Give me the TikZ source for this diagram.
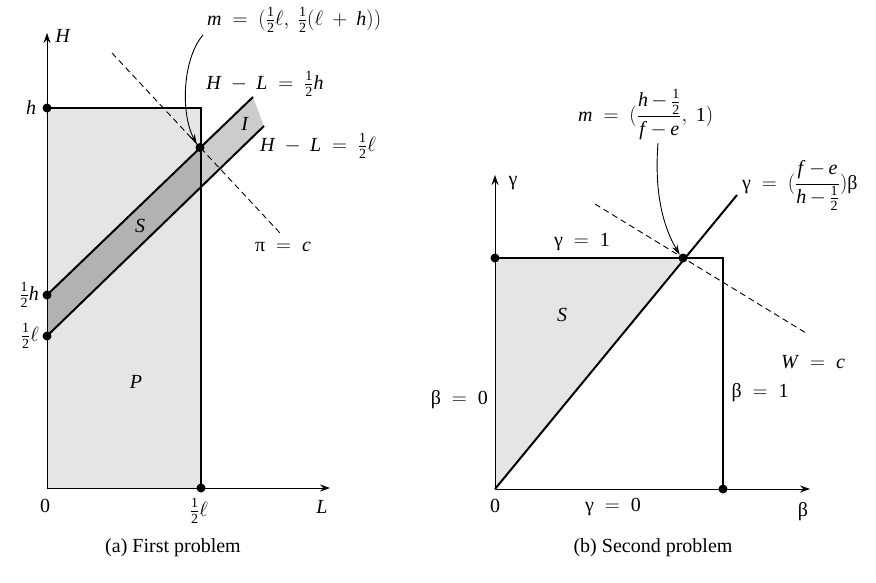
\documentclass[tikz,border=0pt]{standalone}
\usepackage{fontspec}
\setmainfont{Liberation Serif}
\usetikzlibrary{arrows.meta}
\newcommand\smn[1]{\mbox{\fontsize{14}{14}\selectfont #1}}
\newcommand\hlf{{\textstyle\frac{\smn{1}}{\smn{2}}}}
\newcommand\vi[1]{\mbox{\textit{#1}}}
\newcommand\vr[1]{\mbox{#1}}
\newcommand\nm{\mskip3mu{-}\mskip3mu}
\newcommand\bigfr[2]{{\displaystyle\frac{#1}{#2}}}
\begin{document}
\begin{tikzpicture}[x=1pt,y=-1pt,
  font=\fontsize{20}{24}\selectfont,
  thickline/.style={line width=2pt},
  axisline/.style={line width=0.9pt,-{Stealth[length=10pt,width=7pt]}},
  pointer/.style={line width=0.9pt,-{Stealth[length=10pt,width=6pt]}},
  dot/.style={circle,fill=black,inner sep=0pt,minimum size=9pt},
  dashline/.style={line width=0.9pt,dash pattern=on 6pt off 4pt},
  lbl/.style={inner sep=1pt}]
\thickmuskip=9.5mu plus 2mu
\medmuskip=8mu plus 2mu
\useasboundingbox (0,0) rectangle (876,582);
% ---------------- left panel ----------------
\coordinate (O1) at (47,488);
\coordinate (Ytop1) at (47,33);
\coordinate (Xend1) at (330,488);
\coordinate (Rtr) at (201,108);
\coordinate (Rbr) at (201,488);
\coordinate (Ua) at (47,295);
\coordinate (Ub) at (253,97);
\coordinate (La) at (47,336);
\coordinate (Lb) at (264,126);
\coordinate (Lx) at (201,187);
\coordinate (D1a) at (112,53);
\coordinate (D1b) at (280,233);
\fill[black!10] (47,108) rectangle (201,488);
\fill[black!30] (Ua) -- (200,147.5) -- (Lx) -- (La) -- cycle;
\fill[black!20] (200,147.5) -- (Ub) -- (Lb) -- (Lx) -- cycle;
\draw[axisline] (O1) -- (Ytop1);
\draw[axisline] (O1) -- (Xend1);
\node[dot] (h1) at (47,108) {};
\node[dot] (hh) at (Ua) {};
\node[dot] (hl) at (La) {};
\node[dot] (m1) at (200,147.5) {};
\node[dot] (l1) at (Rbr) {};
\draw[thickline] (h1.center) -- (Rtr) -- (l1.center);
\draw[thickline] (hh.center) -- (Ub);
\draw[thickline] (hl.center) -- (Lb);
\draw[dashline] (D1a) -- (D1b);
\node[lbl,anchor=west] (m1lbl) at (206,20) {$\vi{m} = (\hlf\ell,\ \hlf(\ell + \vi{h}))$};
\coordinate (m1s) at (203,35);
\draw[pointer] (m1s) .. controls (183,58) and (180,112) .. (m1.north west);
\node[lbl] (HLh) at (265,84) {$\vi{H} - \vi{L} = \hlf\vi{h}$};
\node[lbl] (HLl) at (318,146) {$\vi{H} - \vi{L} = \hlf\ell$};
\node[lbl] (Ilbl) at (245,124) {\textit{I}};
\node[lbl] (S1) at (140,226) {\textit{S}};
\node[lbl] (P1) at (136,382) {\textit{P}};
\node[lbl] (pic) at (283,247) {$\vr{π} = \vi{c}$};
\node[lbl] (Hlbl) at (63,36) {\textit{H}};
\node[lbl] (hlbl) at (31,108) {\textit{h}};
\node[lbl,anchor=east] (hhlbl) at (40,295) {$\hlf\vi{h}$};
\node[lbl,anchor=east] (hllbl) at (40,336) {$\hlf\ell$};
\node[lbl] (zero1) at (45,506) {0};
\node[lbl] (l1lbl) at (199,511) {$\hlf\ell$};
\node[lbl] (Llbl) at (322,507) {\textit{L}};
\node[lbl] (capa) at (173,548) {(a) First problem};
% ---------------- right panel ----------------
\coordinate (O2) at (495,489);
\coordinate (Ytop2) at (495,175);
\coordinate (Xend2) at (810,489);
\coordinate (Ttr) at (723,258);
\coordinate (Dend) at (737,195);
\coordinate (D2a) at (595,204);
\coordinate (D2b) at (806,333);
\fill[black!10] (495,258) -- (683,258) -- (O2) -- cycle;
\draw[axisline] (O2) -- (Ytop2);
\draw[axisline] (O2) -- (Xend2);
\node[dot] (g1) at (495,258) {};
\node[dot] (m2) at (683,258) {};
\node[dot] (b1) at (723,489) {};
\draw[thickline] (g1.center) -- (Ttr) -- (b1.center);
\draw[thickline] (O2) -- (Dend);
\draw[dashline] (D2a) -- (D2b);
\node[lbl,anchor=base west] (m2lbl) at (577,121) {$\vi{m} = (\bigfr{\vi{h}\nm\hlf}{\vi{f}\nm\vi{e}},\ \vr{1})$};
\coordinate (m2s) at (658,143);
\draw[pointer] (m2s) .. controls (654,195) and (664,228) .. (m2.north west);
\node[lbl,anchor=base west] (glbl) at (741,189) {$\vr{γ} = (\bigfr{\vi{f}\nm\vi{e}}{\vi{h}\nm\hlf})\vr{β}$};
\node[lbl] (gam) at (513,183) {γ};
\node[lbl] (g1lbl) at (582,242) {$\vr{γ} = \vr{1}$};
\node[lbl] (S2) at (562,315) {\textit{S}};
\node[lbl,anchor=east] (b0lbl) at (489,400) {$\vr{β} = \vr{0}$};
\node[lbl] (b1lbl) at (760,393) {$\vr{β} = \vr{1}$};
\node[lbl] (g0lbl) at (613,507) {$\vr{γ} = \vr{0}$};
\node[lbl] (zero2) at (495,506) {0};
\node[lbl] (bet) at (803,512) {β};
\node[lbl] (Wc) at (813,362) {$\vi{W} = \vi{c}$};
\node[lbl] (capb) at (653,548) {(b) Second problem};
\end{tikzpicture}
\end{document}
